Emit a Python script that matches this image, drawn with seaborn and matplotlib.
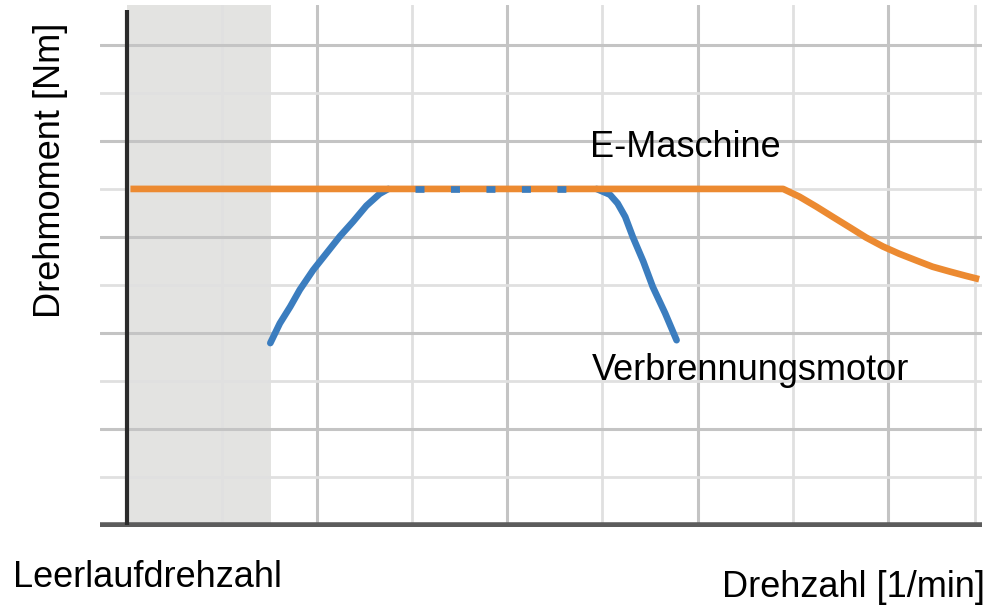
import matplotlib
matplotlib.use("Agg")
import matplotlib.pyplot as plt
import seaborn as sns
import pandas as pd

# ---- data ----
emaschine_x = [0.04, 6.90, 7.07, 7.25, 7.42, 7.60, 7.77, 7.95, 8.12, 8.30, 8.47, 8.65, 8.82, 8.96]
emaschine_y = [7.00, 7.00, 6.84, 6.63, 6.42, 6.20, 5.99, 5.80, 5.65, 5.51, 5.38, 5.28, 5.19, 5.12]

verbrenner_rise_x = [1.51, 1.61, 1.72, 1.82, 1.96, 2.10, 2.24, 2.38, 2.52, 2.66, 2.75]
verbrenner_rise_y = [3.79, 4.20, 4.55, 4.90, 5.31, 5.66, 6.01, 6.32, 6.65, 6.90, 7.00]

verbrenner_flat_x = [3.03, 4.68]
verbrenner_flat_y = [7.00, 7.00]

verbrenner_fall_x = [4.94, 5.08, 5.16, 5.24, 5.32, 5.43, 5.53, 5.66, 5.78]
verbrenner_fall_y = [7.00, 6.88, 6.70, 6.42, 6.00, 5.49, 4.96, 4.41, 3.85]

leerlauf_end = 1.52

label_emaschine = "E-Maschine"
label_verbrenner = "Verbrennungsmotor"
label_leerlauf = "Leerlaufdrehzahl"
label_x = "Drehzahl [1/min]"
label_y = "Drehmoment [Nm]"

ORANGE = "#EC8A31"
BLUE = "#3B7DBF"

sns.set_theme(style="white")
plt.rcParams["font.family"] = ["Liberation Sans", "DejaVu Sans"]

W, H = 992, 606
fig = plt.figure(figsize=(W / 100, H / 100), dpi=100)
ax = fig.add_axes([100 / W, 1 - 527 / H, 882 / W, 522 / H])

ax.set_xlim(-0.28, 8.99)
ax.set_ylim(-0.04, 10.83)

# shaded idle region
ax.axvspan(0, leerlauf_end, color="#e3e3e1", zorder=0, lw=0)

# grid
ax.set_xticks([2, 4, 6, 8])
ax.set_xticks([1, 3, 5, 7, 8.92], minor=True)
ax.set_yticks([2, 4, 6, 8, 10])
ax.set_yticks([1, 3, 5, 7, 9], minor=True)
ax.grid(which="major", color="#c4c4c4", lw=2.2, zorder=1)
ax.grid(which="minor", color="#e0e0e0", lw=2.0, zorder=1)
ax.set_axisbelow(True)
ax.tick_params(which="both", length=0, labelbottom=False, labelleft=False)
for s in ax.spines.values():
    s.set_visible(False)

# axes lines
ax.axhline(0, color="#5c5c5c", lw=4.0, zorder=2)
ax.plot([0, 0], [0, 10.73], color="#2b2b2b", lw=3.0, zorder=2, solid_capstyle="butt")

lw = 4.8
df_r = pd.DataFrame({"x": verbrenner_rise_x, "y": verbrenner_rise_y})
df_f = pd.DataFrame({"x": verbrenner_fall_x, "y": verbrenner_fall_y})
df_e = pd.DataFrame({"x": emaschine_x, "y": emaschine_y})
df_d = pd.DataFrame({"x": verbrenner_flat_x, "y": verbrenner_flat_y})

sns.lineplot(data=df_r, x="x", y="y", ax=ax, color=BLUE, lw=lw, sort=False,
             errorbar=None, solid_capstyle="round", solid_joinstyle="round", zorder=3)
sns.lineplot(data=df_f, x="x", y="y", ax=ax, color=BLUE, lw=lw, sort=False,
             errorbar=None, solid_capstyle="round", solid_joinstyle="round", zorder=3)
sns.lineplot(data=df_e, x="x", y="y", ax=ax, color=ORANGE, lw=lw, sort=False,
             errorbar=None, solid_capstyle="butt", solid_joinstyle="round", zorder=4)
sns.lineplot(data=df_d, x="x", y="y", ax=ax, color=BLUE, lw=lw, sort=False,
             errorbar=None, linestyle=(0, (1.35, 3.97)), dash_capstyle="butt", zorder=5)
ax.set_xlabel("")
ax.set_ylabel("")

def ftext(px, py, s, **kw):
    fig.text(px / W, 1 - py / H, s, fontsize=26, color="black", **kw)

ftext(590, 157, label_emaschine, ha="left", va="baseline")
ftext(592, 380, label_verbrenner, ha="left", va="baseline")
ftext(13, 587, label_leerlauf, ha="left", va="baseline")
ftext(722, 597, label_x, ha="left", va="baseline")
ftext(60, 318, label_y, ha="left", va="baseline", rotation=90, rotation_mode="anchor")

fig.savefig("out.png", dpi=100)
